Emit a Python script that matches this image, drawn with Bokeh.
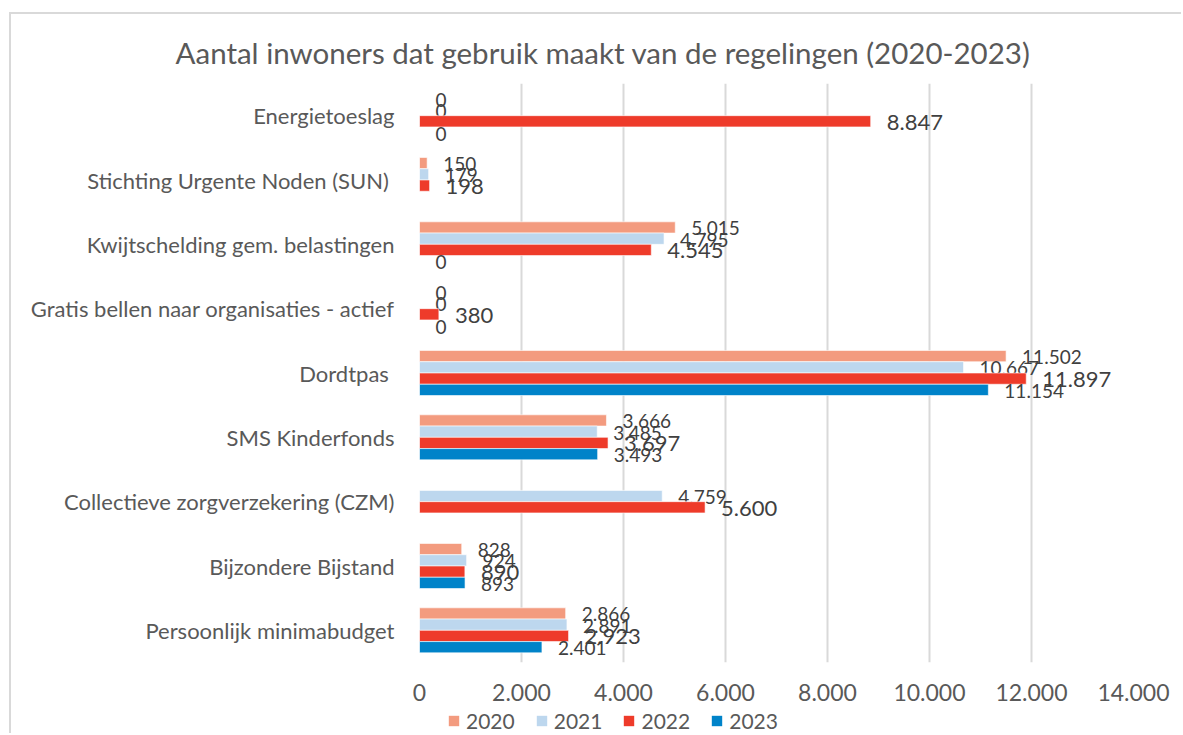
from bokeh.plotting import figure
from bokeh.layouts import column
from bokeh.models import FixedTicker, Range1d, FactorRange, ColumnDataSource, Legend, LegendItem
from bokeh.transform import dodge
from bokeh.core.properties import value
from bokeh.embed import file_html
from bokeh.resources import INLINE

# ---- data (top to bottom as shown) ----
categories = [
    "Energietoeslag",
    "Stichting Urgente Noden (SUN) ",
    "Kwijtschelding gem. belastingen",
    "Gratis bellen naar organisaties - actief",
    "Dordtpas ",
    "SMS Kinderfonds",
    "Collectieve zorgverzekering (CZM)",
    "Bijzondere Bijstand",
    "Persoonlijk minimabudget",
]
years = ["2020", "2021", "2022", "2023"]
v2020 = [0, 150, 5015, 0, 11502, 3666, None, 828, 2866]
v2021 = [0, 179, 4795, 0, 10667, 3485, 4759, 924, 2891]
v2022 = [8847, 198, 4545, 380, 11897, 3697, 5600, 890, 2923]
v2023 = [0, None, 0, 0, 11154, 3493, None, 893, 2401]
series = [v2020, v2021, v2022, v2023]
colors = ["#F39B7F", "#BDD7EE", "#EE3B2A", "#0083C9"]
x_ticks = [0, 2000, 4000, 6000, 8000, 10000, 12000, 14000]
x_tick_labels = ["0", "2.000", "4.000", "6.000", "8.000", "10.000", "12.000", "14.000"]
title_text = "Aantal inwoners dat gebruik maakt van de regelingen (2020-2023)"

FONT = "Lato"
GREY = "#595959"
DARK = "#404040"

bar_h = 0.175
offsets = [1.5 * bar_h, 0.5 * bar_h, -0.5 * bar_h, -1.5 * bar_h]
label_sizes = ["19px", "19px", "22px", "19px"]

W = 1170
p = figure(
    width=W, height=692,
    x_range=Range1d(0, 14000),
    y_range=FactorRange(factors=list(reversed(categories)), range_padding=0),
    output_backend="svg", toolbar_location=None,
    min_border_left=408, min_border_right=W - 408 - 714, min_border_top=69, min_border_bottom=44,
)
p.outline_line_color = None
p.background_fill_color = "white"
p.border_fill_color = "white"

p.title.text = title_text
p.title.align = "left"
p.title.offset = -244
p.title.standoff = 28
p.title.text_font = FONT
p.title.text_font_size = "29.5px"
p.title.text_font_style = "normal"
p.title.text_color = GREY

for yr, vals, col, off, lsz in zip(years, series, colors, offsets, label_sizes):
    cats = [c for c, v in zip(categories, vals) if v is not None]
    vv = [v for v in vals if v is not None]
    labels = [f"{v:,}".replace(",", ".") for v in vv]
    src = ColumnDataSource(dict(cat=cats, val=vv, lab=labels))
    p.hbar(y=dodge("cat", off, range=p.y_range), right="val", left=0, height=bar_h,
           source=src, fill_color=col, line_color="white", line_width=0.6)
    p.text(x="val", y=dodge("cat", off, range=p.y_range), text="lab", source=src,
           x_offset=16, y_offset=1, text_align="left", text_baseline="middle",
           text_font=value(FONT), text_font_size=lsz, text_color=DARK)

p.xaxis.ticker = FixedTicker(ticks=x_ticks)
p.xaxis.major_label_overrides = {t: l for t, l in zip(x_ticks, x_tick_labels)}
p.xaxis.axis_line_color = None
p.xaxis.major_tick_line_color = None
p.xaxis.minor_tick_line_color = None
p.xaxis.major_label_standoff = 15
p.xaxis.major_label_text_font = FONT
p.xaxis.major_label_text_font_size = "23px"
p.xaxis.major_label_text_color = GREY

p.yaxis.axis_line_color = None
p.yaxis.major_tick_line_color = None
p.yaxis.minor_tick_line_color = None
p.yaxis.major_label_standoff = 19
p.yaxis.major_label_text_font = FONT
p.yaxis.major_label_text_font_size = "22px"
p.yaxis.major_label_text_color = GREY

p.xgrid.ticker = FixedTicker(ticks=x_ticks)
p.xgrid.grid_line_color = "#d9d9d9"
p.xgrid.grid_line_width = 2
p.ygrid.grid_line_color = None

# ---- legend strip (own small figure; zero-size key renderers) ----
lg = figure(width=W, height=27, output_backend="svg", toolbar_location=None,
            x_range=Range1d(0, 1), y_range=Range1d(0, 1),
            x_axis_location=None, y_axis_location=None,
            min_border_left=0, min_border_right=0, min_border_top=0, min_border_bottom=0)
lg.outline_line_color = None
lg.xgrid.grid_line_color = None
lg.ygrid.grid_line_color = None
legend_items = []
for yr, col in zip(years, colors):
    ksrc = ColumnDataSource(dict(y=[0], left=[0], right=[0]))
    r = lg.hbar(y="y", left="left", right="right", height=0, source=ksrc,
                fill_color=col, line_color=None)
    legend_items.append(LegendItem(label=yr, renderers=[r]))
legend = Legend(items=legend_items, orientation="horizontal", location=(28, 0),
                padding=0, margin=0, spacing=20, label_standoff=6,
                glyph_width=13, glyph_height=13, label_height=22,
                label_text_font=FONT, label_text_font_size="21px", label_text_color=GREY,
                border_line_color=None, background_fill_alpha=0)
lg.add_layout(legend, "center")

layout = column(p, lg, spacing=0)
layout.styles = {"margin-left": "9px", "margin-top": "12px",
                 "border-left": "2px solid #d9d9d9", "border-top": "2px solid #d9d9d9"}

open("out.html", "w").write(file_html(layout, INLINE))
